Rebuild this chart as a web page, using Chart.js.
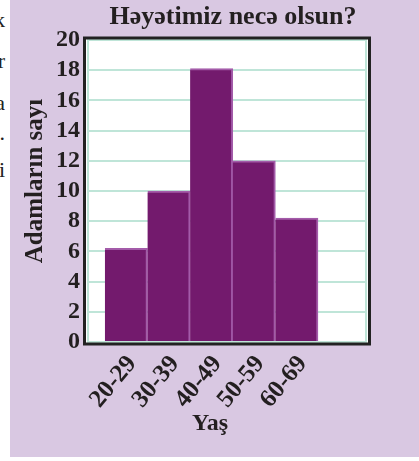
<!DOCTYPE html>
<html><head><meta charset="utf-8">
<script src="https://cdn.jsdelivr.net/npm/chart.js@4.4.1/dist/chart.umd.min.js"></script>
<style>
html,body{margin:0;padding:0;background:#fff;width:419px;height:461px;overflow:hidden;}
#bg{position:absolute;left:10px;top:0;width:409px;height:457px;background:#d9c8e2;}
#margin{position:absolute;left:0;top:0;width:10px;height:200px;overflow:hidden;font:22px "Liberation Serif";color:#222;line-height:22px;}
#margin span{position:absolute;right:5px;white-space:nowrap;}
#wrap{position:absolute;left:0;top:0;width:419px;height:461px;}
</style></head>
<body>
<div id="bg"></div>
<div id="margin"><span style="top:9px">k</span><span style="top:50px">r</span><span style="top:92px">a</span><span style="top:122px">.</span><span style="top:159px">i</span></div>
<div id="wrap"><canvas id="c" width="419" height="461"></canvas></div>
<script>
const categories = ['20-29', '30-39', '40-49', '50-59', '60-69'];
const counts = [6.2, 10, 18.1, 12, 8.2];
const yTickValues = [0, 2, 4, 6, 8, 10, 12, 14, 16, 18, 20];
const chartTitle = 'Həyətimiz necə olsun?';
const yAxisTitle = 'Adamların sayı';
const xAxisTitle = 'Yaş';

const SERIF = '"Liberation Serif", "Times New Roman", serif';
const INK = '#231f20';

const framePlugin = {
  id: 'frame',
  beforeDraw(chart) {
    const { ctx, chartArea: a } = chart;
    ctx.save();
    ctx.fillStyle = '#ffffff';
    ctx.fillRect(a.left - 3, a.top - 3, a.right - a.left + 6, a.bottom - a.top + 6);
    ctx.restore();
  },
  beforeDatasetsDraw(chart) {
    const { ctx, chartArea: a } = chart;
    ctx.save();
    ctx.strokeStyle = '#bfe5d8';
    ctx.lineWidth = 2;
    ctx.beginPath();
    ctx.moveTo(a.left + 1, a.top); ctx.lineTo(a.left + 1, a.bottom);
    ctx.moveTo(a.right - 1, a.top); ctx.lineTo(a.right - 1, a.bottom);
    ctx.stroke();
    ctx.restore();
  },
  afterDraw(chart) {
    const { ctx, chartArea: a } = chart;
    ctx.save();
    ctx.strokeStyle = '#222222';
    ctx.lineWidth = 3;
    ctx.strokeRect(a.left - 2.5, a.top - 2, a.right - a.left + 5, a.bottom - a.top + 4);
    ctx.fillStyle = INK;
    ctx.textAlign = 'center';
    ctx.textBaseline = 'middle';
    ctx.font = 'bold 26px ' + SERIF;
    ctx.fillText(chartTitle, 233, 17);
    ctx.font = 'bold 24px ' + SERIF;
    ctx.fillText(xAxisTitle, 210, 424);
    ctx.translate(36, 181);
    ctx.rotate(-Math.PI / 2);
    ctx.font = 'bold 25px ' + SERIF;
    ctx.fillText(yAxisTitle, 0, 0);
    ctx.restore();
  }
};

new Chart(document.getElementById('c'), {
  type: 'bar',
  data: {
    datasets: [{
      data: counts.map((v, i) => ({ x: i, y: v })),
      backgroundColor: '#731a6d',
      borderColor: '#a35ba9',
      borderWidth: { top: 2, right: 2, left: 0, bottom: 0 },
      borderSkipped: false,
      barPercentage: 1,
      categoryPercentage: 1
    }]
  },
  options: {
    responsive: false,
    devicePixelRatio: 1,
    animation: false,
    layout: { padding: { left: 0, right: 52, top: 40, bottom: 0 } },
    plugins: { legend: { display: false }, tooltip: { enabled: false }, title: { display: false } },
    scales: {
      x: {
        type: 'linear',
        offset: false,
        min: -0.92,
        max: 5.65,
        grid: { display: false },
        border: { display: false },
        afterFit: s => { s.height = 119; },
        afterBuildTicks: s => { s.ticks = categories.map((c, i) => ({ value: i })); },
        ticks: {
          autoSkip: false,
          minRotation: 50,
          maxRotation: 50,
          padding: 0,
          labelOffset: 6,
          color: INK,
          font: { family: SERIF, weight: 'bold', size: 25 },
          callback: v => categories[v]
        }
      },
      y: {
        min: 0,
        max: 20,
        afterFit: s => { s.width = 87; },
        afterBuildTicks: s => { s.ticks = yTickValues.map(v => ({ value: v })); },
        grid: { color: '#bfe5d8', lineWidth: 2, drawTicks: false },
        border: { display: false },
        ticks: {
          autoSkip: false,
          padding: 7,
          color: INK,
          font: { family: SERIF, weight: 'bold', size: 24 }
        }
      }
    }
  },
  plugins: [framePlugin]
});
</script>
</body></html>
